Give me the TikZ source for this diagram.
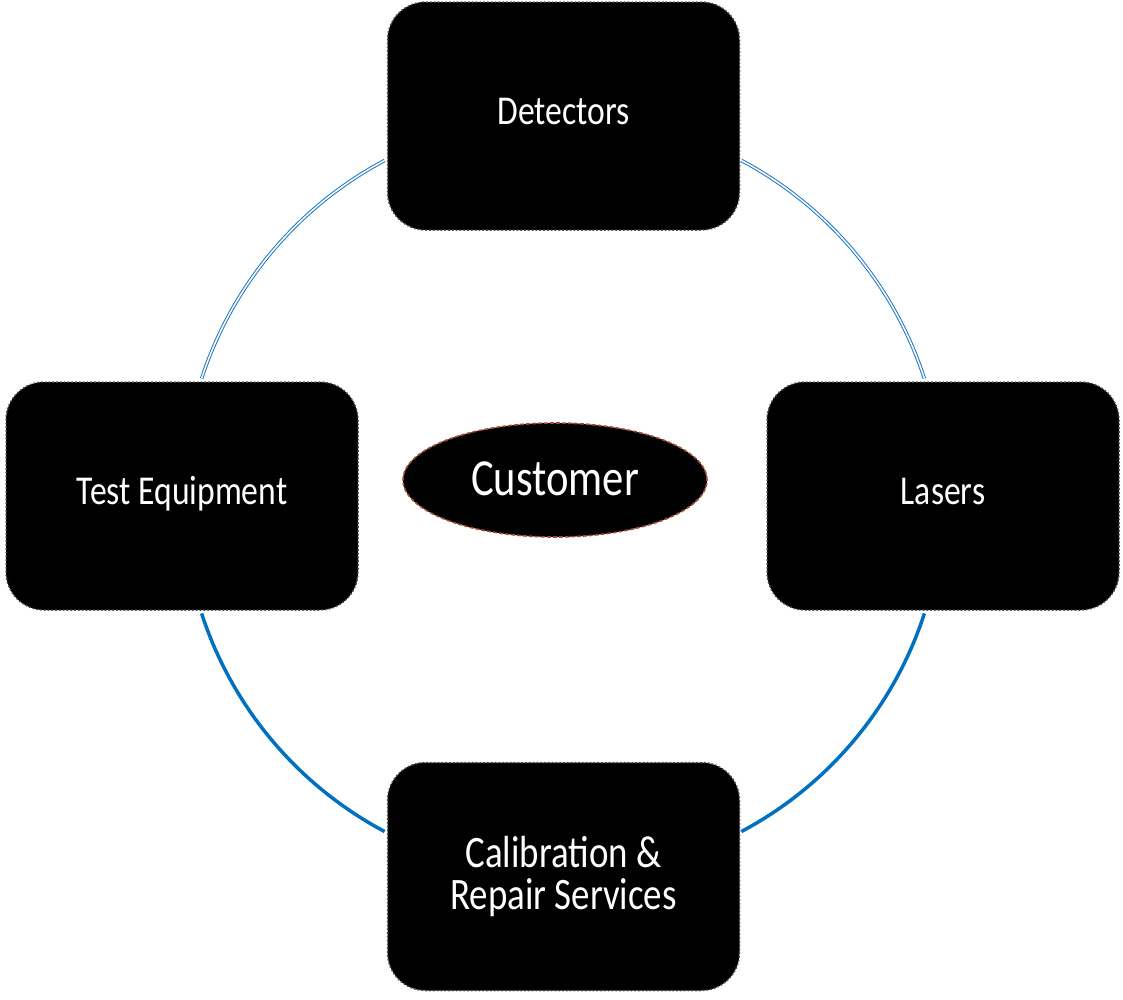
\documentclass[tikz,border=0pt]{standalone}
\usepackage{fontspec}
\setmainfont[FakeStretch=0.82]{Carlito}
\usetikzlibrary{shapes.geometric}
\definecolor{arcblue}{HTML}{0070C0}
\definecolor{dblblue}{HTML}{1F78C8}
\definecolor{ellborder}{HTML}{A04B36}
\begin{document}
\begin{tikzpicture}[x=1pt,y=-1pt,
  stepbox/.style={draw=black!70, dash pattern=on 1.6pt off 2.2pt, line width=1.5pt,
    fill=black, rounded corners=38pt, minimum width=352pt, minimum height=228pt,
    inner sep=0pt, text=white, align=center},
  boxfont/.style={font=\fontsize{41}{41}\selectfont, text height=26pt, text depth=10pt},
  custnode/.style={ellipse, draw=ellborder, dash pattern=on 4pt off 2pt, line width=1.6pt,
    fill=black, minimum width=304pt, minimum height=114pt, inner sep=0pt, text=white,
    font=\fontsize{52}{52}\selectfont, text height=33pt, text depth=3pt},
  toparc/.style={draw=dblblue, double=white, line width=1pt, double distance=1.5pt},
  botarc/.style={draw=arcblue, line width=3.5pt}
]
\useasboundingbox (0,0) rectangle (1123,999);
\coordinate (c) at (563,496);
\node[stepbox, boxfont] (det) at (563.5,116) {Detectors};
\node[stepbox, boxfont] (test) at (182,496) {Test Equipment};
\node[stepbox, boxfont] (las) at (943,496) {Lasers};
\node[stepbox, font=\fontsize{45}{42}\selectfont] (cal) at (563.5,876.5) {Calibration \&\\Repair Services};
\node[custnode] (cust) at (555,480) {Customer};
% arcs of the cycle
\draw[toparc] ([shift={(-118:380)}]c) arc[start angle=-118, end angle=-162, radius=380];
\draw[toparc] ([shift={(-62:380)}]c) arc[start angle=-62, end angle=-18, radius=380];
\draw[botarc] ([shift={(18:380)}]c) arc[start angle=18, end angle=62, radius=380];
\draw[botarc] ([shift={(118:380)}]c) arc[start angle=118, end angle=162, radius=380];
\end{tikzpicture}
\end{document}
